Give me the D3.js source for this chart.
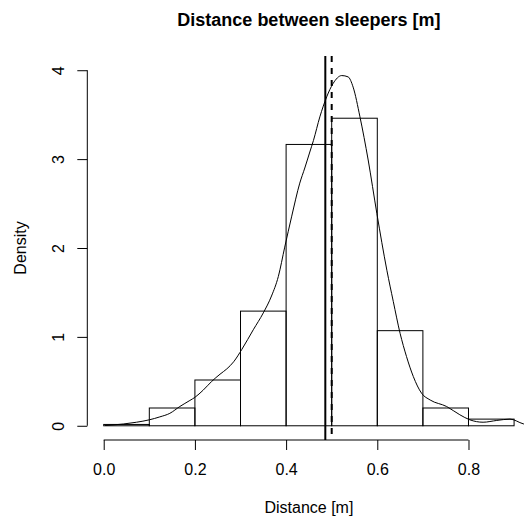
<!DOCTYPE html>
<html>
<head>
<meta charset="utf-8">
<script src="https://cdn.jsdelivr.net/npm/d3@7"></script>
<style>
  body { margin: 0; background: #fff; }
  svg text { font-family: "Liberation Sans", Arial, Helvetica, sans-serif; fill: #000; }
</style>
</head>
<body>
<script>
// histogram bins (density scale)
const binStart = [0.0, 0.1, 0.2, 0.3, 0.4, 0.5, 0.6, 0.7, 0.8];
const binEnd   = [0.1, 0.2, 0.3, 0.4, 0.5, 0.6, 0.7, 0.8, 0.9];
const binDensity = [0.015, 0.2, 0.515, 1.29, 3.165, 3.46, 1.07, 0.2, 0.075];

// kernel density curve
const densX = [0.003, 0.043, 0.072, 0.1, 0.123, 0.145, 0.167, 0.189, 0.2, 0.218, 0.237, 0.255, 0.27, 0.285,
  0.303, 0.328, 0.35, 0.368, 0.383, 0.397, 0.412, 0.43, 0.441, 0.452, 0.46, 0.474, 0.489, 0.503, 0.522,
  0.536, 0.547, 0.562, 0.58, 0.599, 0.621, 0.635, 0.65, 0.664, 0.679, 0.697, 0.716, 0.752, 0.781, 0.803,
  0.832, 0.862, 0.891, 0.92, 0.935];
const densY = [0.003, 0.02, 0.04, 0.067, 0.1, 0.14, 0.217, 0.285, 0.32, 0.40, 0.50, 0.58, 0.64, 0.72,
  0.86, 1.08, 1.27, 1.46, 1.68, 2.01, 2.35, 2.73, 2.90, 3.08, 3.21, 3.475, 3.70, 3.85, 3.94,
  3.925, 3.81, 3.475, 2.99, 2.39, 1.75, 1.40, 1.04, 0.78, 0.554, 0.367, 0.29, 0.217, 0.124, 0.067,
  0.04, 0.06, 0.075, 0.022, 0.005];

const meanValue = 0.486;   // solid line
const medianValue = 0.5;   // dashed line

const xTicks = [0.0, 0.2, 0.4, 0.6, 0.8];
const yTicks = [0, 1, 2, 3, 4];

const width = 524, height = 520;
const plotLeft = 87.3, plotRight = 530.5, plotTop = 56, plotBottom = 440;

const svg = d3.select('body').append('svg')
  .attr('width', width).attr('height', height);

// R style usr: 4% extension
const x = d3.scaleLinear().domain([-0.036, 0.936]).range([plotLeft, plotRight]);
const y = d3.scaleLinear().domain([-0.16, 4.16]).range([plotBottom, plotTop]);

svg.append('defs').append('clipPath').attr('id', 'plotclip')
  .append('rect').attr('x', plotLeft).attr('y', plotTop)
  .attr('width', plotRight - plotLeft).attr('height', plotBottom - plotTop);

const plot = svg.append('g').attr('clip-path', 'url(#plotclip)');

// bars
plot.selectAll('rect.bar')
  .data(binDensity)
  .enter()
    .append('rect')
    .attr('class', 'bar')
    .attr('x', (d, i) => x(binStart[i]))
    .attr('width', (d, i) => x(binEnd[i]) - x(binStart[i]))
    .attr('y', d => y(d))
    .attr('height', d => y(0) - y(d))
    .attr('fill', 'none')
    .attr('stroke', '#000')
    .attr('stroke-width', 1);

// density curve
const line = d3.line()
  .x(d => x(d[0]))
  .y(d => y(d[1]))
  .curve(d3.curveMonotoneX);

plot.append('path')
  .datum(densX.map((v, i) => [v, densY[i]]))
  .attr('d', line)
  .attr('fill', 'none')
  .attr('stroke', '#000')
  .attr('stroke-width', 1);

// mean / median
plot.append('line')
  .attr('x1', x(meanValue)).attr('x2', x(meanValue))
  .attr('y1', plotTop).attr('y2', plotBottom)
  .attr('stroke', '#000').attr('stroke-width', 2);

plot.append('line')
  .attr('x1', x(medianValue)).attr('x2', x(medianValue))
  .attr('y1', plotTop).attr('y2', plotBottom)
  .attr('stroke', '#000').attr('stroke-width', 2)
  .attr('stroke-dasharray', '6,6');

// x axis
const xAxis = svg.append('g')
  .attr('transform', 'translate(0,' + plotBottom + ')')
  .call(d3.axisBottom(x).tickValues(xTicks).tickFormat(d3.format('.1f'))
    .tickSize(10).tickPadding(14));
xAxis.select('.domain').remove();
xAxis.append('line')
  .attr('x1', x(xTicks[0])).attr('x2', x(xTicks[xTicks.length - 1]))
  .attr('stroke', '#000');
xAxis.selectAll('text').style('font-size', '16px');

// y axis
const yAxis = svg.append('g')
  .attr('transform', 'translate(' + plotLeft + ',0)')
  .call(d3.axisLeft(y).tickValues(yTicks).tickFormat(d3.format('d')).tickSize(10));
yAxis.select('.domain').remove();
yAxis.append('line')
  .attr('y1', y(yTicks[0])).attr('y2', y(yTicks[yTicks.length - 1]))
  .attr('stroke', '#000');
yAxis.selectAll('.tick text')
  .attr('x', null).attr('dy', null)
  .attr('text-anchor', 'middle')
  .attr('transform', 'translate(-23,0) rotate(-90)')
  .style('font-size', '16px');

// labels
const midX = (plotLeft + plotRight) / 2;
svg.append('text')
  .attr('x', midX).attr('y', 25.5)
  .attr('text-anchor', 'middle')
  .style('font-size', '18px').style('font-weight', 'bold')
  .text('Distance between sleepers [m]');

svg.append('text')
  .attr('x', midX).attr('y', 513)
  .attr('text-anchor', 'middle')
  .style('font-size', '16px')
  .text('Distance [m]');

svg.append('text')
  .attr('transform', 'translate(26.3,' + (plotTop + plotBottom) / 2 + ') rotate(-90)')
  .attr('text-anchor', 'middle')
  .style('font-size', '16px')
  .text('Density');
</script>
</body>
</html>
